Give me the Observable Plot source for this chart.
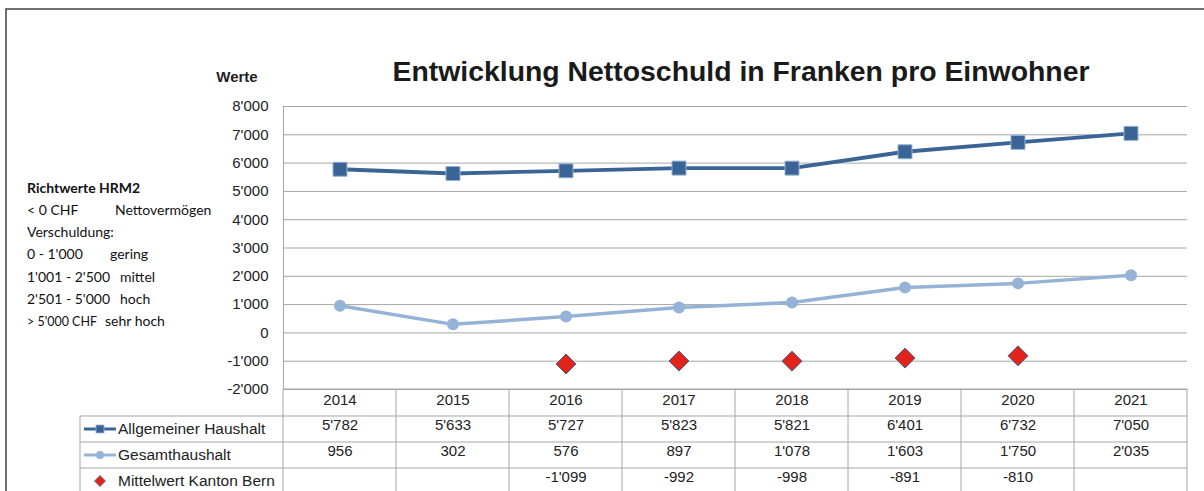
<!DOCTYPE html>
<html><head><meta charset="utf-8">
<script src="https://cdn.jsdelivr.net/npm/d3@7"></script>
<script src="https://cdn.jsdelivr.net/npm/@observablehq/plot@0.6"></script>
<style>
html,body{margin:0;padding:0;background:#fff;}
#chart{position:relative;width:1204px;height:491px;overflow:hidden;}
</style></head><body><div id="chart"></div>
<script>
const years = [2014, 2015, 2016, 2017, 2018, 2019, 2020, 2021];
const allgemeiner = [5782, 5633, 5727, 5823, 5821, 6401, 6732, 7050];
const gesamt = [956, 302, 576, 897, 1078, 1603, 1750, 2035];
const mittelwert = [null, null, -1099, -992, -998, -891, -810, null];
const yTicks = [-2000, -1000, 0, 1000, 2000, 3000, 4000, 5000, 6000, 7000, 8000];
const seriesNames = ["Allgemeiner Haushalt", "Gesamthaushalt", "Mittelwert Kanton Bern"];
const titleText = "Entwicklung Nettoschuld in Franken pro Einwohner";
const yLabel = "Werte";
const richtTitle = "Richtwerte HRM2";
const richtLines = [["< 0 CHF", "Nettovermögen"], ["Verschuldung:", ""], ["0 - 1'000", "gering"], ["1'001 - 2'500", "mittel"], ["2'501 - 5'000", "hoch"], ["> 5'000 CHF", "sehr hoch"]];

const C_DARK = "#3a6496", C_LIGHT = "#95b3d7", C_RED = "#e2231a", C_GRID = "#a6a6a6", C_TEXT = "#222";
const locale = d3.formatLocale({decimal: ".", thousands: "'", grouping: [3], currency: ["", ""], minus: "-"});
const fmt = locale.format(",d");

const rowsA = years.map((y, i) => ({year: y, value: allgemeiner[i]}));
const rowsG = years.map((y, i) => ({year: y, value: gesamt[i]}));
const rowsM = years.map((y, i) => ({year: y, value: mittelwert[i]})).filter(d => d.value != null);

const FONT = "'Liberation Sans', Arial, sans-serif";
const plot = Plot.plot({
  width: 1204, height: 491,
  marginLeft: 283, marginRight: 17, marginTop: 106, marginBottom: 102,
  style: {fontFamily: FONT, fontSize: "15px", color: C_TEXT, background: "#fff", overflow: "visible"},
  x: {type: "linear", domain: [years[0] - 0.5, years[years.length - 1] + 0.5], axis: null},
  y: {domain: [yTicks[0], yTicks[yTicks.length - 1]], axis: null},
  marks: [
    Plot.ruleY(yTicks, {stroke: C_GRID, strokeWidth: 1}),
    Plot.ruleX([years[0] - 0.5], {stroke: C_GRID, strokeWidth: 1}),
    Plot.axisY({ticks: yTicks, tickSize: 0, tickPadding: 15, tickFormat: fmt, label: null, fontSize: 15}),
    Plot.line(rowsG, {x: "year", y: "value", stroke: C_LIGHT, strokeWidth: 3.5}),
    Plot.dot(rowsG, {x: "year", y: "value", r: 6, fill: C_LIGHT}),
    Plot.line(rowsA, {x: "year", y: "value", stroke: C_DARK, strokeWidth: 3.8}),
    Plot.dot(rowsA, {x: "year", y: "value", symbol: "square", r: 7.9, fill: C_DARK, stroke: C_LIGHT, strokeWidth: 1}),
    Plot.dot(rowsM, {x: "year", y: "value", symbol: "diamond2", r: 9, fill: C_RED, stroke: C_DARK, strokeWidth: 1}),
    Plot.text(years, {x: d => d, text: d => String(d), frameAnchor: "bottom", dy: 15, fontSize: 15}),
    Plot.text(rowsA, {x: "year", text: d => fmt(d.value), frameAnchor: "bottom", dy: 40, fontSize: 15}),
    Plot.text(rowsG, {x: "year", text: d => fmt(d.value), frameAnchor: "bottom", dy: 66, fontSize: 15}),
    Plot.text(rowsM, {x: "year", text: d => fmt(d.value), frameAnchor: "bottom", dy: 92, fontSize: 15})
  ]
});

const svg = d3.select(plot);
const xs = plot.scale("x");
const X = v => xs.apply(v);
const left = X(years[0] - 0.5), right = X(years[years.length - 1] + 0.5);
const yTop = 389, rowYs = [416, 442, 468], tableBottom = 495, legendLeft = 80;
const g = svg.append("g").attr("text-anchor", "start");

// outer frame
g.append("path").attr("d", `M6,491 V9 H1204`).attr("fill", "none").attr("stroke", "#404040").attr("stroke-width", 1.5);

// title
g.append("text").attr("x", 741).attr("y", 81).attr("text-anchor", "middle")
  .attr("font-family", FONT).attr("font-weight", "bold").attr("font-size", 28).attr("fill", "#1a1a1a")
  .attr("textLength", 697).attr("lengthAdjust", "spacingAndGlyphs").text(titleText);
// y label
g.append("text").attr("x", 237).attr("y", 82).attr("text-anchor", "middle")
  .attr("font-family", FONT).attr("font-weight", "bold").attr("font-size", 15).attr("fill", C_TEXT).text(yLabel);

// Richtwerte block
const RF = "Lato, 'Open Sans', sans-serif";
const RS = 14;
g.append("text").attr("x", 27).attr("y", 193).attr("font-family", RF).attr("font-weight", "bold")
  .attr("font-size", RS).attr("fill", "#111").text(richtTitle);
const secondX = [115, 0, 110, 120, 120, 105];
const firstMax = [60, 100, 60, 89, 89, 70];
richtLines.forEach((pair, i) => {
  const y = 215 + i * 22.2;
  const t = g.append("text").attr("x", 27).attr("y", y).attr("font-family", RF).attr("font-size", RS).attr("fill", "#111").text(pair[0]);
  t.attr("data-max", firstMax[i]);
  if (pair[1]) g.append("text").attr("x", secondX[i]).attr("y", y).attr("font-family", RF).attr("font-size", RS).attr("fill", "#111").text(pair[1]);
});

// table grid
const lines = g.append("g").attr("stroke", C_GRID).attr("stroke-width", 1).attr("fill", "none");
rowYs.forEach(y => lines.append("line").attr("x1", legendLeft).attr("x2", right).attr("y1", y).attr("y2", y));
lines.append("line").attr("x1", left).attr("x2", left + (right - left)).attr("y1", yTop).attr("y2", yTop);
lines.append("line").attr("x1", legendLeft).attr("x2", legendLeft).attr("y1", rowYs[0]).attr("y2", tableBottom);
lines.append("line").attr("x1", left).attr("x2", left).attr("y1", yTop).attr("y2", tableBottom);
years.forEach(yr => {
  const xb = X(yr + 0.5);
  lines.append("line").attr("x1", xb).attr("x2", xb).attr("y1", yTop).attr("y2", tableBottom);
});

// legend entries in table
const legY = [429, 455, 481];
seriesNames.forEach((name, i) => {
  g.append("text").attr("x", 118).attr("y", legY[i]).attr("dy", "0.32em").attr("font-family", FONT)
    .attr("font-size", 15.5).attr("fill", C_TEXT).text(name);
});
g.append("line").attr("x1", 84).attr("x2", 116).attr("y1", legY[0]).attr("y2", legY[0]).attr("stroke", C_DARK).attr("stroke-width", 3);
g.append("rect").attr("x", 96).attr("y", legY[0] - 4).attr("width", 8).attr("height", 8).attr("fill", C_DARK).attr("stroke", C_LIGHT).attr("stroke-width", 0.8);
g.append("line").attr("x1", 84).attr("x2", 116).attr("y1", legY[1]).attr("y2", legY[1]).attr("stroke", C_LIGHT).attr("stroke-width", 3);
g.append("circle").attr("cx", 100).attr("cy", legY[1]).attr("r", 4).attr("fill", C_LIGHT);
g.append("path").attr("d", `M100,${legY[2] - 5.5} L105.5,${legY[2]} L100,${legY[2] + 5.5} L94.5,${legY[2]} Z`)
  .attr("fill", C_RED).attr("stroke", C_DARK).attr("stroke-width", 0.8);

document.getElementById("chart").appendChild(plot);

// compress first-column texts that would run into the second column
g.selectAll("text[data-max]").each(function() {
  const max = +this.getAttribute("data-max");
  const w = this.getComputedTextLength();
  if (w > max) { this.setAttribute("textLength", max); this.setAttribute("lengthAdjust", "spacingAndGlyphs"); }
});
</script>
</body></html>
